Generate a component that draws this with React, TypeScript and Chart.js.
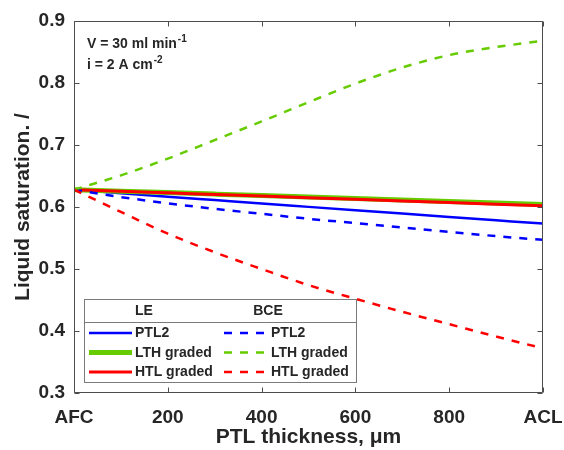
import React, { useEffect, useRef } from 'react';
import { Chart, registerables } from 'chart.js';

Chart.register(...registerables);

// ---- data ----
const thickness = [0, 100, 200, 300, 400, 500, 600, 700, 800, 900, 1000];
const lePTL2 = [0.628, 0.6222, 0.6166, 0.6111, 0.6056, 0.6002, 0.5948, 0.5894, 0.584, 0.5786, 0.5732];
const leLTH = [0.628, 0.6256, 0.6232, 0.6208, 0.6184, 0.616, 0.6136, 0.6112, 0.6088, 0.6064, 0.604];
const leHTL = [0.628, 0.6254, 0.6228, 0.6202, 0.6176, 0.615, 0.6124, 0.6098, 0.6072, 0.6046, 0.602];
const bcePTL2 = [0.628, 0.616, 0.606, 0.597, 0.589, 0.581, 0.574, 0.567, 0.56, 0.553, 0.547];
const bceLTH = [0.628, 0.651, 0.678, 0.708, 0.738, 0.769, 0.799, 0.825, 0.845, 0.858, 0.868];
const bceHTL = [0.628, 0.592, 0.557, 0.527, 0.5, 0.474, 0.452, 0.431, 0.411, 0.391, 0.372];

const xTickValues = [0, 200, 400, 600, 800, 1000];
const xTickLabels = ['AFC', '200', '400', '600', '800', 'ACL'];
const yTickValues = [0.3, 0.4, 0.5, 0.6, 0.7, 0.8, 0.9];
const yTickLabels = ['0.3', '0.4', '0.5', '0.6', '0.7', '0.8', '0.9'];

const legendHeaders = ['LE', 'BCE'];
const legendRows = ['PTL2', 'LTH graded', 'HTL graded'];
const annotationLines = [
  { base: 'V = 30 ml min', sup: '-1' },
  { base: 'i = 2 A cm', sup: '-2' },
];
const xTitle = 'PTL thickness, \u03bcm';
const yTitle = 'Liquid saturation. /';

const FONT = "'Liberation Sans', Arial, Helvetica, sans-serif";
const TEXT = '#262626';
const BLUE = '#0000ff';
const GREEN = '#66cc00';
const RED = '#ff0000';

const framePlugin = {
  id: 'frame',
  afterDatasetsDraw(chart: any) {
    const { ctx, chartArea: a } = chart;
    const xs = chart.scales.x;
    const ys = chart.scales.y;
    ctx.save();
    ctx.strokeStyle = '#4d4d4d';
    ctx.lineWidth = 1;
    const L = Math.round(a.left) + 0.5;
    const R = Math.round(a.right) - 0.5;
    const T = Math.round(a.top) + 0.5;
    const B = Math.round(a.bottom) - 0.5;
    ctx.beginPath();
    ctx.rect(L, T, R - L, B - T);
    const tl = 5;
    xTickValues.forEach((v) => {
      const px = Math.round(xs.getPixelForValue(v)) + 0.5;
      ctx.moveTo(px, B);
      ctx.lineTo(px, B - tl);
      ctx.moveTo(px, T);
      ctx.lineTo(px, T + tl);
    });
    yTickValues.forEach((v) => {
      const py = Math.round(ys.getPixelForValue(v)) + 0.5;
      ctx.moveTo(L, py);
      ctx.lineTo(L + tl, py);
      ctx.moveTo(R, py);
      ctx.lineTo(R - tl, py);
    });
    ctx.stroke();

    // annotation text
    ctx.fillStyle = TEXT;
    ctx.textBaseline = 'alphabetic';
    ctx.textAlign = 'left';
    const ax = a.left + 13;
    const baselines = [a.top + 27, a.top + 48];
    annotationLines.forEach((ln, i) => {
      ctx.font = `bold 14px ${FONT}`;
      ctx.fillText(ln.base, ax, baselines[i]);
      const w = ctx.measureText(ln.base).width;
      ctx.font = `bold 10px ${FONT}`;
      ctx.fillText(ln.sup, ax + w + 1, baselines[i] - 6);
    });
    ctx.restore();
  },
  afterDraw(chart: any) {
    const { ctx, chartArea: a } = chart;
    const ds = chart.data.datasets;
    ctx.save();
    const bx = a.left + 10;
    const by = a.top + 278;
    const bw = 272;
    const bh = 83;
    ctx.fillStyle = '#ffffff';
    ctx.fillRect(bx, by, bw, bh);
    ctx.strokeStyle = '#7a7a7a';
    ctx.lineWidth = 1;
    ctx.strokeRect(bx + 0.5, by + 0.5, bw, bh);
    ctx.beginPath();
    ctx.moveTo(bx, by + 23.5);
    ctx.lineTo(bx + bw, by + 23.5);
    ctx.stroke();

    ctx.fillStyle = TEXT;
    ctx.font = `bold 14px ${FONT}`;
    ctx.textBaseline = 'middle';
    ctx.textAlign = 'center';
    const headerX = [bx + 60, bx + 184];
    legendHeaders.forEach((h, j) => ctx.fillText(h, headerX[j], by + 12));

    const lineX = [[bx + 5, bx + 48], [bx + 140, bx + 181]];
    const textX = [bx + 51, bx + 187];
    const rowY = [by + 34, by + 53.5, by + 73];
    ctx.textAlign = 'left';
    for (let j = 0; j < 2; j++) {
      for (let i = 0; i < legendRows.length; i++) {
        const d = ds[j * 3 + i];
        ctx.save();
        ctx.strokeStyle = d.borderColor;
        ctx.lineWidth = d.borderWidth;
        ctx.setLineDash(d.borderDash || []);
        ctx.beginPath();
        ctx.moveTo(lineX[j][0], rowY[i]);
        ctx.lineTo(lineX[j][1], rowY[i]);
        ctx.stroke();
        ctx.restore();
        ctx.fillText(legendRows[i], textX[j], rowY[i] + 0.5);
      }
    }
    ctx.restore();
  },
};

export default function App() {
  const ref = useRef<HTMLCanvasElement>(null);
  useEffect(() => {
    document.body.style.margin = '0';
    const canvas = ref.current!;
    const mk = (vals: number[]) => thickness.map((x, i) => ({ x, y: vals[i] }));
    const dash = [8, 8];
    const chart = new Chart(canvas, {
      type: 'line',
      data: {
        datasets: [
          { label: 'LE PTL2', data: mk(lePTL2), borderColor: BLUE, borderWidth: 2.5, order: 6 },
          { label: 'LE LTH graded', data: mk(leLTH), borderColor: GREEN, borderWidth: 5, order: 5 },
          { label: 'LE HTL graded', data: mk(leHTL), borderColor: RED, borderWidth: 3, order: 4 },
          { label: 'BCE PTL2', data: mk(bcePTL2), borderColor: BLUE, borderWidth: 2.5, borderDash: dash, order: 3 },
          { label: 'BCE LTH graded', data: mk(bceLTH), borderColor: GREEN, borderWidth: 2.5, borderDash: dash, order: 2 },
          { label: 'BCE HTL graded', data: mk(bceHTL), borderColor: RED, borderWidth: 2.5, borderDash: dash, order: 1 },
        ] as any,
      },
      options: {
        responsive: false,
        animation: false,
        devicePixelRatio: 1,
        layout: { padding: { top: 21, right: 21, left: 0, bottom: 0 } },
        elements: {
          point: { radius: 0 },
          line: { cubicInterpolationMode: 'monotone', fill: false, borderCapStyle: 'butt' },
        },
        plugins: { legend: { display: false }, tooltip: { enabled: false } },
        scales: {
          x: {
            type: 'linear',
            min: 0,
            max: 1000,
            afterBuildTicks: (s: any) => {
              s.ticks = xTickValues.map((v) => ({ value: v }));
            },
            afterFit: (s: any) => {
              s.height = 57;
              s.paddingLeft = 0;
              s.paddingRight = 0;
            },
            grid: { display: false, drawTicks: false },
            border: { display: false },
            ticks: {
              padding: 13,
              autoSkip: false,
              maxRotation: 0,
              color: TEXT,
              font: { family: FONT, size: 19, weight: 'bold' },
              callback: (v: any) => xTickLabels[xTickValues.indexOf(Number(v))],
            },
            title: {
              display: true,
              text: xTitle,
              color: TEXT,
              font: { family: FONT, size: 21, weight: 'bold' },
              padding: { top: 0, bottom: 0 },
            },
          },
          y: {
            type: 'linear',
            min: 0.3,
            max: 0.9,
            afterBuildTicks: (s: any) => {
              s.ticks = yTickValues.map((v) => ({ value: v }));
            },
            afterFit: (s: any) => {
              s.width = 74;
              s.paddingTop = 0;
              s.paddingBottom = 0;
            },
            grid: { display: false, drawTicks: false },
            border: { display: false },
            ticks: {
              padding: 9,
              autoSkip: false,
              color: TEXT,
              font: { family: FONT, size: 19, weight: 'bold' },
              callback: (_v: any, i: number) => yTickLabels[i],
            },
            title: {
              display: true,
              text: yTitle,
              color: TEXT,
              font: { family: FONT, size: 21, weight: 'bold' },
              padding: { top: 11, bottom: 0 },
            },
          },
        },
      } as any,
      plugins: [framePlugin],
    });
    return () => chart.destroy();
  }, []);
  return (
    <div style={{ width: 564, height: 450 }}>
      <canvas ref={ref} width={564} height={450} style={{ display: 'block' }} />
    </div>
  );
}
